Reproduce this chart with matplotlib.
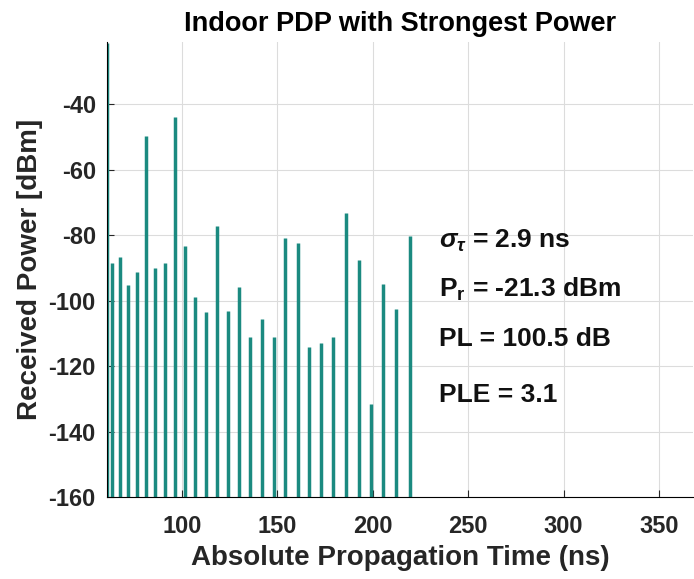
import matplotlib
matplotlib.use("Agg")
import matplotlib.pyplot as plt

# multipath components
delay_ns = [60.6, 63.4, 67.6, 71.5, 76.2, 80.9, 86.0, 91.1, 96.5, 101.8,
            106.8, 112.4, 118.2, 124.2, 129.8, 135.6, 142.0, 148.3, 154.1,
            160.6, 166.7, 173.0, 179.3, 185.8, 192.6, 198.9, 205.4, 212.2,
            219.4]
power_dbm = [-21.3, -88.5, -86.7, -95.2, -91.2, -49.7, -89.8, -88.5, -43.8,
             -83.2, -98.7, -103.3, -77.0, -103.0, -95.8, -110.9, -105.6,
             -110.9, -80.8, -82.3, -114.0, -112.8, -110.9, -73.0, -87.4,
             -131.5, -94.8, -102.6, -80.3]
y_floor = -160
stats = [r'$\sigma_{\tau}$ = 2.9 ns', r'P$_{\mathbf{r}}$ = -21.3 dBm',
         'PL = 100.5 dB', 'PLE = 3.1']
stats_y = [-81.6, -96.6, -111.6, -128.7]

plt.rcParams['font.family'] = ['Liberation Sans', 'DejaVu Sans']
plt.rcParams['font.weight'] = 'bold'
plt.rcParams['axes.unicode_minus'] = False
plt.rcParams['mathtext.fontset'] = 'custom'
plt.rcParams['mathtext.rm'] = 'Liberation Sans:bold'
plt.rcParams['mathtext.bf'] = 'Liberation Sans:bold'
plt.rcParams['mathtext.it'] = 'Liberation Sans:italic'

fig = plt.figure(figsize=(6.94, 5.79), dpi=100)
ax = fig.add_axes([0.154, 0.141, 0.845, 0.786])

ax.vlines(delay_ns, y_floor, power_dbm, color='#1b8a80', linewidth=2.5)

for s, y in zip(stats, stats_y):
    ax.text(234.5, y, s, fontsize=19, fontweight='bold', va='center', color='#111111')

ax.set_xlim(60.6, 368)
ax.set_ylim(-160, -21)
ax.set_xticks([100, 150, 200, 250, 300, 350])
ax.set_yticks([-160, -140, -120, -100, -80, -60, -40])
ax.grid(True, color='#dcdcdc', linewidth=0.8)
ax.set_axisbelow(True)
ax.spines['top'].set_visible(False)
ax.spines['right'].set_visible(False)
ax.tick_params(direction='in', labelsize=17, length=5, color='#262626')
ax.tick_params(axis='x', pad=13)
ax.tick_params(axis='y', pad=8)
for lab in ax.get_xticklabels() + ax.get_yticklabels():
    lab.set_fontweight('bold')
    lab.set_color('#262626')

ax.set_title('Indoor PDP with Strongest Power', fontsize=19.5, fontweight='bold', pad=8)
ax.set_xlabel('Absolute Propagation Time (ns)', fontsize=20, fontweight='bold',
              color='#262626', labelpad=5)
ax.set_ylabel('Received Power [dBm]', fontsize=20, fontweight='bold',
              color='#262626', labelpad=4)

fig.savefig('out.png', dpi=100)
